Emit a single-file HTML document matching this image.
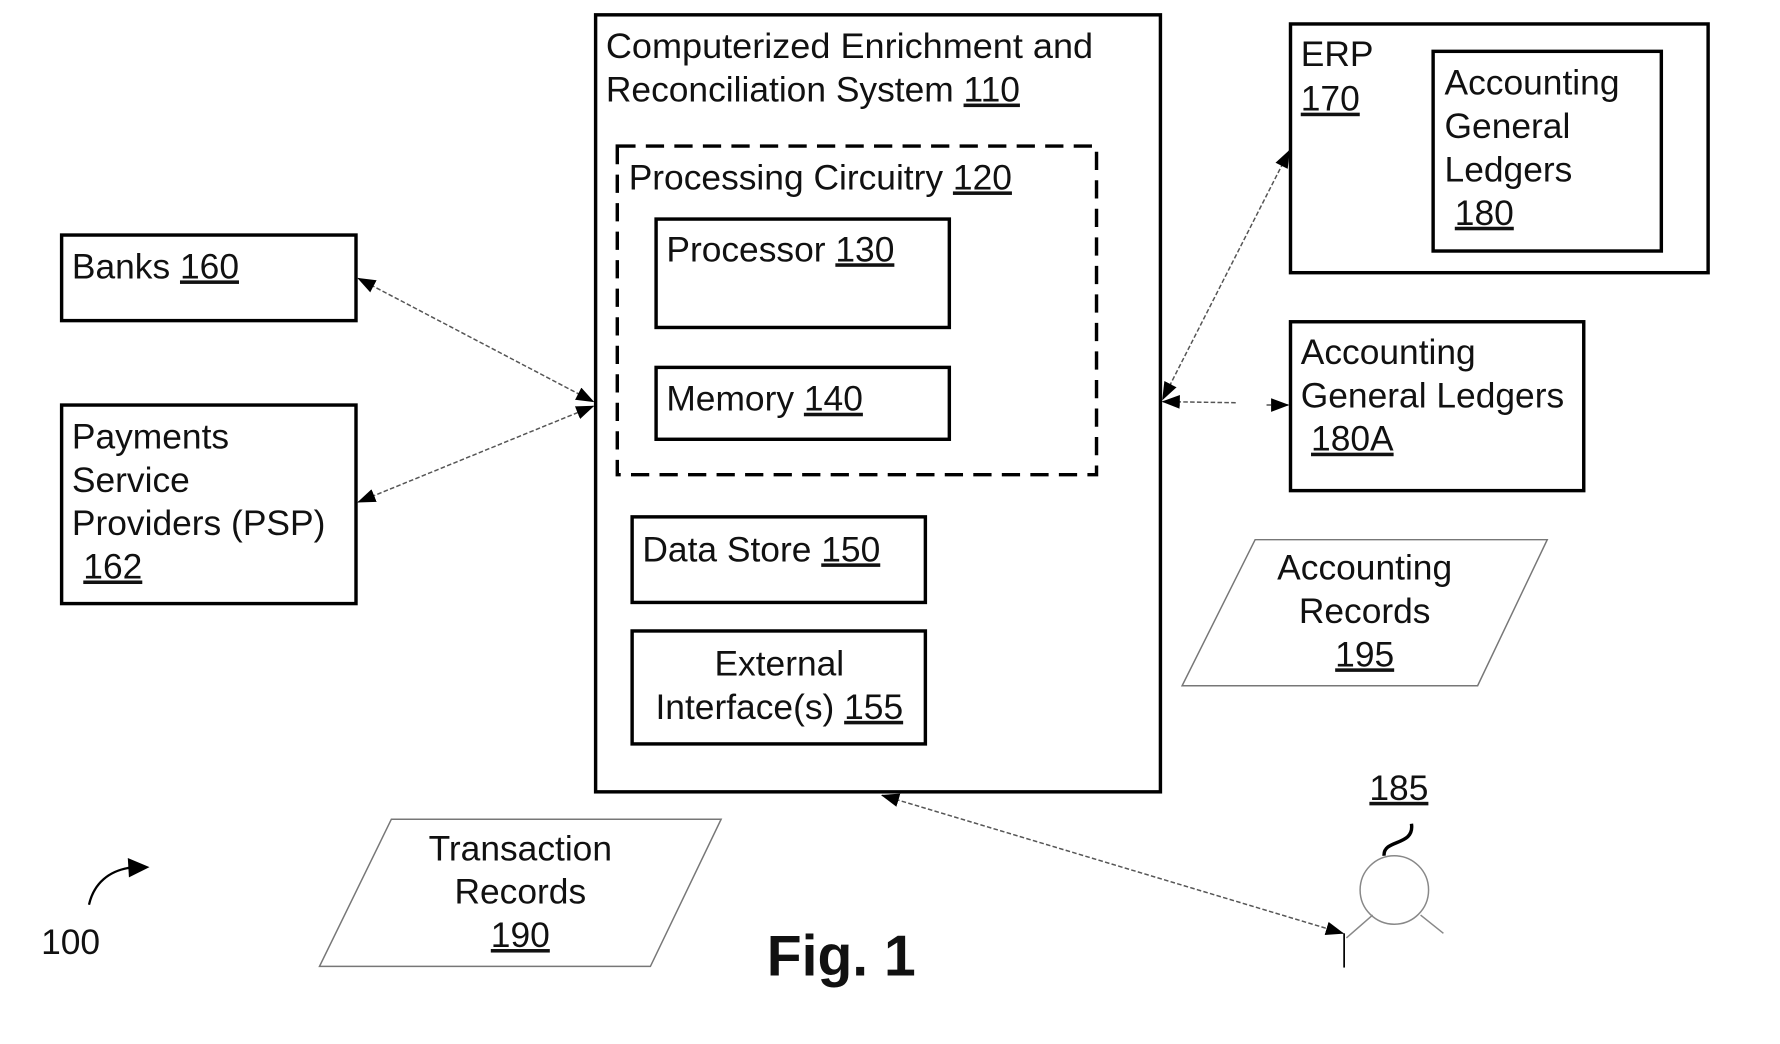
<!DOCTYPE html>
<html><head><meta charset="utf-8"><style>
html,body{margin:0;padding:0;background:#fff;width:1780px;height:1044px;overflow:hidden}
svg{display:block}
text{font-family:"Liberation Sans",Arial,sans-serif;font-size:31px;fill:#111}
.u{text-decoration:underline}
</style></head><body>
<svg width="1780" height="1044" viewBox="0 0 1560 915" preserveAspectRatio="none" xmlns="http://www.w3.org/2000/svg">
<defs>
<marker id="b" viewBox="0 0 16 16" refX="15" refY="8" markerWidth="16" markerHeight="16" orient="auto-start-reverse" markerUnits="userSpaceOnUse">
<path d="M0,2 L16,8 L0,14 z" fill="#000"/>
</marker>
</defs>
<g fill="none" stroke="#000" stroke-width="3">
<rect x="522" y="13" width="495" height="681"/>
<rect x="541" y="128" width="420" height="288" stroke-dasharray="16,9"/>
<rect x="575" y="192" width="257" height="95"/>
<rect x="575" y="322" width="257" height="63"/>
<rect x="554" y="453" width="257" height="75"/>
<rect x="554" y="553" width="257" height="99"/>
<rect x="54" y="206" width="258" height="75"/>
<rect x="54" y="355" width="258" height="174"/>
<rect x="1131" y="21" width="366" height="218"/>
<rect x="1256" y="45" width="200" height="175"/>
<rect x="1131" y="282" width="257" height="148"/>
</g>
<g fill="none" stroke="#777" stroke-width="1.3">
<polygon points="1100,473 1356,473 1295,601 1036,601"/>
<polygon points="343,718 632,718 570,847 280,847"/>
</g>
<g fill="none" stroke="#555" stroke-width="1.3" stroke-dasharray="4,2">
<line x1="314" y1="244" x2="520" y2="352" marker-start="url(#b)" marker-end="url(#b)"/>
<line x1="314" y1="440" x2="520" y2="356" marker-start="url(#b)" marker-end="url(#b)"/>
<line x1="1130" y1="132" x2="1019" y2="350" marker-start="url(#b)" marker-end="url(#b)"/>
<line x1="1019" y1="352" x2="1085" y2="353" marker-start="url(#b)"/>
<line x1="1110" y1="355" x2="1129" y2="355" marker-end="url(#b)"/>
<line x1="773" y1="697" x2="1177" y2="818" marker-start="url(#b)" marker-end="url(#b)"/>
</g>
<g fill="none" stroke="#888" stroke-width="1.3">
<circle cx="1222" cy="780" r="30"/>
<line x1="1203" y1="802" x2="1180" y2="822"/>
<line x1="1245" y1="802" x2="1265" y2="818"/>
</g>
<line x1="1178" y1="818" x2="1178" y2="848" stroke="#000" stroke-width="1.5"/>
<path d="M1237,722 C1240,742 1212,735 1213,750" fill="none" stroke="#000" stroke-width="3"/>
<path d="M78,793 C82,775 95,762 118,760" fill="none" stroke="#000" stroke-width="2"/>
<path d="M112,752 L131,760 L113,769 z" fill="#000"/>
<text x="531" y="51" textLength="427" lengthAdjust="spacingAndGlyphs">Computerized Enrichment and</text>
<text x="531" y="89">Reconciliation System <tspan class="u">110</tspan></text>
<text x="551" y="166">Processing Circuitry <tspan class="u">120</tspan></text>
<text x="584" y="229">Processor <tspan class="u">130</tspan></text>
<text x="584" y="360">Memory <tspan class="u">140</tspan></text>
<text x="563" y="492">Data Store <tspan class="u">150</tspan></text>
<text x="683" y="592" text-anchor="middle">External</text>
<text x="683" y="630" text-anchor="middle">Interface(s) <tspan class="u">155</tspan></text>
<text x="63" y="244">Banks <tspan class="u">160</tspan></text>
<text x="63" y="393">Payments</text>
<text x="63" y="431">Service</text>
<text x="63" y="469">Providers (PSP)</text>
<text x="73" y="507" class="u">162</text>
<text x="1140" y="58">ERP</text>
<text x="1140" y="97" class="u">170</text>
<text x="1266" y="83">Accounting</text>
<text x="1266" y="121">General</text>
<text x="1266" y="159">Ledgers</text>
<text x="1275" y="197" class="u">180</text>
<text x="1140" y="319">Accounting</text>
<text x="1140" y="357">General Ledgers</text>
<text x="1149" y="395" class="u">180A</text>
<text x="1196" y="508" text-anchor="middle">Accounting</text>
<text x="1196" y="546" text-anchor="middle">Records</text>
<text x="1196" y="584" text-anchor="middle" class="u">195</text>
<text x="456" y="754" text-anchor="middle">Transaction</text>
<text x="456" y="792" text-anchor="middle">Records</text>
<text x="456" y="830" text-anchor="middle" class="u">190</text>
<text x="1226" y="701" text-anchor="middle" class="u">185</text>
<text x="36" y="836">100</text>
<text x="672" y="855" style="font-size:50px;font-weight:bold">Fig. 1</text>
</svg>
</body></html>
